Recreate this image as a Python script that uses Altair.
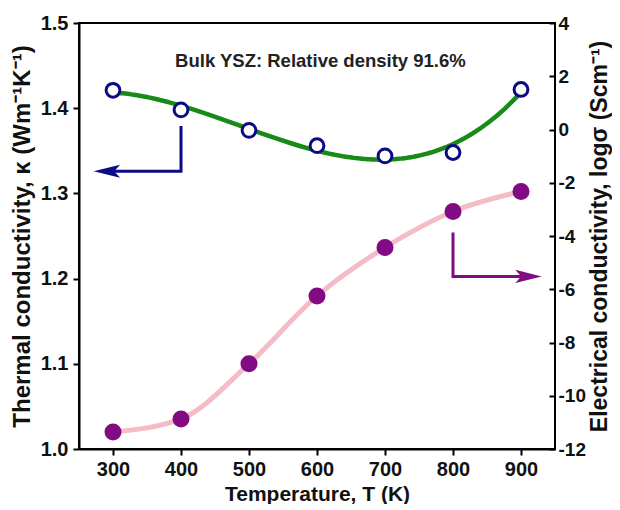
import altair as alt
import pandas as pd

# ---- data ----
temps = [300, 400, 500, 600, 700, 800, 900]
kappa = [1.421, 1.398, 1.374, 1.356, 1.344, 1.348, 1.422]          # W m^-1 K^-1 (left axis)
log_sigma = [-11.36, -10.87, -8.80, -6.25, -4.43, -3.08, -2.33]    # log S cm^-1 (right axis)

x_ticks = [300, 400, 500, 600, 700, 800, 900]
left_ticks = [1.0, 1.1, 1.2, 1.3, 1.4, 1.5]
right_ticks = [-12, -10, -8, -6, -4, -2, 0, 2, 4]

note_text = ["Bulk YSZ: Relative density 91.6%"]
note_T = [605]
note_k = [1.455]

# annotation arrows (data units)
blue_arrow_T = [400, 400, 282]
blue_arrow_k = [1.379, 1.326, 1.326]
blue_head_T = [291]
blue_head_k = [1.326]
purple_arrow_T = [800, 800, 920]
purple_arrow_s = [-3.87, -5.52, -5.52]
purple_head_T = [911]
purple_head_s = [-5.52]

FONT = "Liberation Sans"
GREEN = "#178a17"
PINK = "#f4bcc6"
NAVY = "#0b0b85"
PURPLE = "#820a82"

main = pd.DataFrame({"T": temps, "kappa": kappa, "logs": log_sigma})
blue_arrow = pd.DataFrame({"T": blue_arrow_T, "kappa": blue_arrow_k, "i": [0, 1, 2]})
blue_head = pd.DataFrame({"T": blue_head_T, "kappa": blue_head_k})
purple_arrow = pd.DataFrame({"T": purple_arrow_T, "logs": purple_arrow_s, "i": [0, 1, 2]})
purple_head = pd.DataFrame({"T": purple_head_T, "logs": purple_head_s})
note = pd.DataFrame({"T": note_T, "kappa": note_k, "txt": note_text})

xscale = alt.Scale(domain=[250, 950], nice=False)
xaxis = alt.Axis(values=x_ticks, format="d", title="Temperature, T (K)",
                 grid=False, tickSize=6, tickWidth=2, domainWidth=2,
                 domainColor="black", tickColor="black",
                 labelFont=FONT, labelFontSize=20, labelFontWeight="bold",
                 labelColor="#111", labelPadding=4,
                 titleFont=FONT, titleFontSize=21, titleFontWeight="bold",
                 titleColor="#111", titlePadding=4)
X = alt.X("T:Q", scale=xscale, axis=xaxis)

lscale = alt.Scale(domain=[1.0, 1.5], nice=False, zero=False)
laxis = alt.Axis(values=left_ticks, format=".1f",
                 title="Thermal conductivity, κ (Wm⁻¹K⁻¹)",
                 grid=False, tickSize=6, tickWidth=2, domainWidth=2,
                 domainColor="black", tickColor="black",
                 labelFont=FONT, labelFontSize=20, labelFontWeight="bold",
                 labelColor="#111", labelPadding=5,
                 titleFont=FONT, titleFontSize=24, titleFontWeight="bold",
                 titleColor="#111", titlePadding=6)
YL = alt.Y("kappa:Q", scale=lscale, axis=laxis)

rscale = alt.Scale(domain=[-12, 4], nice=False, zero=False)
raxis = alt.Axis(values=right_ticks, format="d", orient="right",
                 labelExpr="replace(datum.label, '\u2212', '-')",
                 title="Electrical conductivity, logσ (Scm⁻¹)",
                 grid=False, tickSize=6, tickWidth=2, domain=False, offset=-6,
                 tickColor="black",
                 labelFont=FONT, labelFontSize=19, labelFontWeight="bold",
                 labelColor="#111", labelPadding=3,
                 titleFont=FONT, titleFontSize=23, titleFontWeight="bold",
                 titleColor="#111", titlePadding=3, titleAngle=270,
                 titleBaseline="top")
YR = alt.Y("logs:Q", scale=rscale, axis=raxis)

# ---- left (thermal) group ----
green = alt.Chart(main).transform_regression(
    "T", "kappa", method="poly", order=3
).mark_line(color=GREEN, strokeWidth=4.5).encode(x=X, y=YL)

blue_pts = alt.Chart(main).mark_point(
    shape="circle", size=190, filled=True, fill="white", stroke=NAVY,
    strokeWidth=3, opacity=1).encode(x=X, y=YL)

b_arrow = alt.Chart(blue_arrow).mark_line(color=NAVY, strokeWidth=3).encode(
    x=X, y=YL, order="i:Q")

b_head = alt.Chart(blue_head).mark_point(
    shape="M-1,0L1,-0.5L0.55,0L1,0.5Z", size=700, filled=True,
    color=NAVY, opacity=1).encode(x=X, y=YL)

txt = alt.Chart(note).mark_text(font=FONT, fontSize=18.5, fontWeight="bold",
                                color="#222").encode(x=X, y=YL, text="txt:N")

left = alt.layer(green, b_arrow, b_head, blue_pts, txt)

# ---- right (electrical) group ----
pink = alt.Chart(main).mark_line(color=PINK, strokeWidth=5,
                                 interpolate="monotone").encode(x=X, y=YR)

purple_pts = alt.Chart(main).mark_point(
    shape="circle", size=290, filled=True, color=PURPLE, opacity=1).encode(
    x=X, y=YR)

p_arrow = alt.Chart(purple_arrow).mark_line(color=PURPLE, strokeWidth=3).encode(
    x=X, y=YR, order="i:Q")

p_head = alt.Chart(purple_head).mark_point(
    shape="M1,0L-1,-0.5L-0.55,0L-1,0.5Z", size=700, filled=True,
    color=PURPLE, opacity=1).encode(x=X, y=YR)

right = alt.layer(pink, p_arrow, p_head, purple_pts)

chart = alt.layer(left, right).resolve_scale(y="independent").properties(
    width=476, height=426,
    padding={"left": 2, "right": 0, "top": 5, "bottom": 0},
    background="white",
).configure_view(stroke="black", strokeWidth=2)

chart.save("out.html", embed_options={"renderer": "svg", "actions": False})
